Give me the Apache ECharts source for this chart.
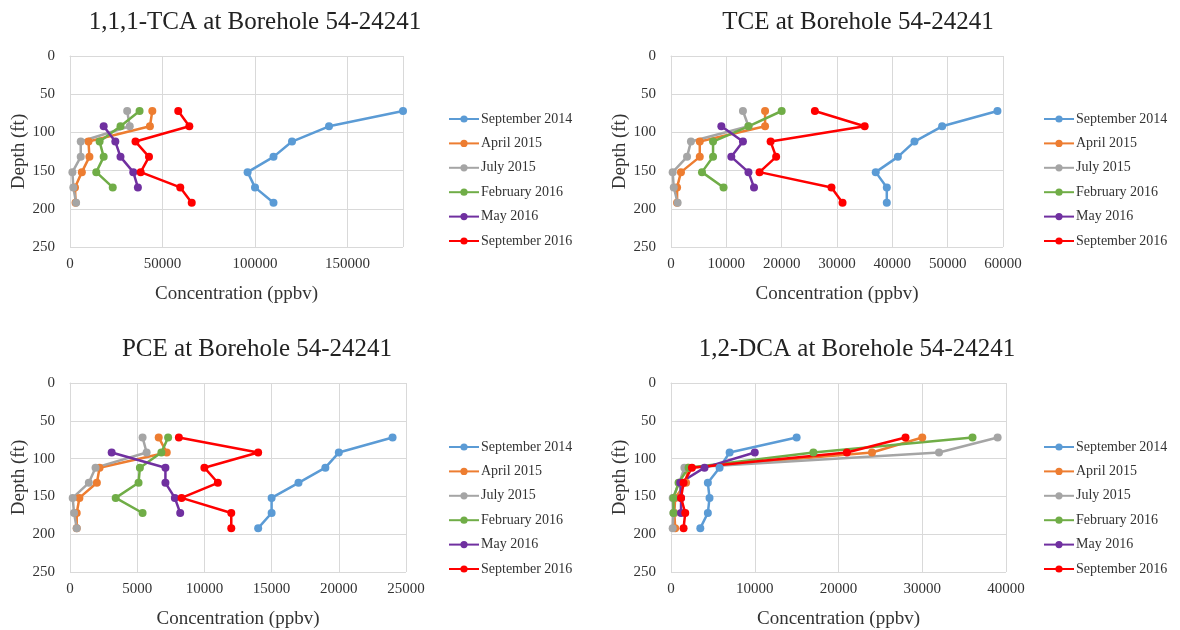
<!DOCTYPE html>
<html>
<head>
<meta charset="utf-8">
<script src="https://cdn.jsdelivr.net/npm/echarts@6/dist/echarts.min.js"></script>
<style>
  html, body { margin: 0; padding: 0; background: #ffffff; }
  #chart { width: 1180px; height: 630px; }
</style>
</head>
<body>
<div id="chart"></div>
<script>
// sampling dates (legend order)
var seriesNames = ['September 2014', 'April 2015', 'July 2015', 'February 2016', 'May 2016', 'September 2016']
var colors = ['#5B9BD5', '#ED7D31', '#A5A5A5', '#70AD47', '#7030A0', '#FF0000']

// depths (ft)
var depthsAll = [72, 92, 112, 132, 152, 172, 192]
var depthsFeb16 = [72, 92, 112, 132, 152, 172]
var depthsMay16 = [92, 112, 132, 152, 172]

// 1,1,1-TCA (ppbv)
var tcaSep14 = [180000, 140000, 120000, 110000, 96000, 100000, 110000]
var tcaApr15 = [44500, 43200, 10000, 10500, 6400, 2700, 3000]
var tcaJul15 = [30900, 32300, 5800, 5800, 1300, 1800, 3300]
var tcaFeb16 = [37600, 27300, 16000, 18200, 14200, 23100]
var tcaMay16 = [18200, 24500, 27300, 34200, 36700]
var tcaSep16 = [58500, 64500, 35400, 42700, 38200, 59600, 65800]

// TCE (ppbv)
var tceSep14 = [59000, 49000, 44000, 41000, 37000, 39000, 39000]
var tceApr15 = [17000, 17000, 5200, 5200, 1800, 1100, 1100]
var tceJul15 = [13000, 14000, 3600, 2900, 300, 500, 1200]
var tceFeb16 = [20000, 14000, 7600, 7600, 5600, 9500]
var tceMay16 = [9100, 13000, 10900, 14000, 15000]
var tceSep16 = [26000, 35000, 18000, 19000, 16000, 29000, 31000]

// PCE (ppbv)
var pceSep14 = [24000, 20000, 19000, 17000, 15000, 15000, 14000]
var pceApr15 = [6600, 7200, 2200, 2000, 700, 500, 500]
var pceJul15 = [5400, 5700, 1900, 1400, 200, 300, 500]
var pceFeb16 = [7300, 6800, 5200, 5100, 3400, 5400]
var pceMay16 = [3100, 7100, 7100, 7800, 8200]
var pceSep16 = [8100, 14000, 10000, 11000, 8300, 12000, 12000]

// 1,2-DCA (ppbv)
var dcaSep14 = [15000, 7000, 5800, 4400, 4600, 4400, 3500]
var dcaApr15 = [30000, 24000, 2000, 1800, 500, 400, 500]
var dcaJul15 = [39000, 32000, 1600, 1000, 200, 300, 200]
var dcaFeb16 = [36000, 17000, 2100, 900, 300, 300]
var dcaMay16 = [10000, 4000, 1100, 1200, 1200]
var dcaSep16 = [28000, 21000, 2500, 1500, 1200, 1700, 1500]

var panels = [
  { title: '1,1,1-TCA at Borehole 54-24241', max: 180000, interval: 50000,
    values: [tcaSep14, tcaApr15, tcaJul15, tcaFeb16, tcaMay16, tcaSep16],
    grid: { left: 70, top: 56, width: 333, height: 191 }, titleX: 250, titleY: 5, legend: [448, 112] },
  { title: 'TCE at Borehole 54-24241', max: 60000, interval: 10000,
    values: [tceSep14, tceApr15, tceJul15, tceFeb16, tceMay16, tceSep16],
    grid: { left: 671, top: 56, width: 332, height: 191 }, titleX: 853, titleY: 5, legend: [1043, 112] },
  { title: 'PCE at Borehole 54-24241', max: 25000, interval: 5000,
    values: [pceSep14, pceApr15, pceJul15, pceFeb16, pceMay16, pceSep16],
    grid: { left: 70, top: 383, width: 336, height: 189 }, titleX: 252, titleY: 332, legend: [448, 440] },
  { title: '1,2-DCA at Borehole 54-24241', max: 40000, interval: 10000,
    values: [dcaSep14, dcaApr15, dcaJul15, dcaFeb16, dcaMay16, dcaSep16],
    grid: { left: 671, top: 383, width: 335, height: 189 }, titleX: 852, titleY: 332, legend: [1043, 440] }
]

var depthSets = [depthsAll, depthsAll, depthsAll, depthsFeb16, depthsMay16, depthsAll]
var font = 'Liberation Serif'
var textColor = '#333333'
var gridColor = '#D9D9D9'

var option = {
  animation: false,
  textStyle: { fontFamily: font },
  color: colors,
  title: [],
  legend: [],
  grid: [],
  xAxis: [],
  yAxis: [],
  series: []
}

panels.forEach(function (p, pi) {
  option.title.push({
    text: p.title,
    left: p.titleX,
    top: p.titleY,
    textAlign: 'center',
    textStyle: { fontFamily: font, fontSize: 25, fontWeight: 'normal', color: '#222222' }
  })
  option.legend.push({
    data: seriesNames,
    orient: 'vertical',
    left: p.legend[0],
    top: p.legend[1],
    padding: 0,
    itemWidth: 30,
    itemHeight: 9,
    itemGap: 10.4,
    textStyle: { fontFamily: font, fontSize: 14, color: textColor, padding: [0, 0, 0, -3] }
  })
  option.grid.push(p.grid)
  option.xAxis.push({
    gridIndex: pi,
    type: 'value',
    min: 0,
    max: p.max,
    interval: p.interval,
    name: 'Concentration (ppbv)',
    nameLocation: 'middle',
    nameGap: 38,
    nameTextStyle: { fontFamily: font, fontSize: 19, color: textColor },
    axisLine: { show: true, lineStyle: { color: gridColor } },
    axisTick: { show: false },
    axisLabel: {
      fontFamily: font, fontSize: 15, color: textColor, margin: 10, showMaxLabel: pi !== 0,
      formatter: function (v) { return String(v) }
    },
    splitLine: { show: true, lineStyle: { color: gridColor, width: 1 } }
  })
  option.yAxis.push({
    gridIndex: pi,
    type: 'value',
    inverse: true,
    min: 0,
    max: 250,
    interval: 50,
    name: 'Depth (ft)',
    nameLocation: 'middle',
    nameGap: 38,
    nameTextStyle: { fontFamily: font, fontSize: 19, color: textColor },
    axisLine: { show: true, lineStyle: { color: gridColor } },
    axisTick: { show: false },
    axisLabel: { fontFamily: font, fontSize: 15, color: textColor, margin: 15 },
    splitLine: { show: true, lineStyle: { color: gridColor, width: 1 } }
  })
  p.values.forEach(function (vals, si) {
    var depths = depthSets[si]
    option.series.push({
      name: seriesNames[si],
      type: 'line',
      xAxisIndex: pi,
      yAxisIndex: pi,
      symbol: 'circle',
      symbolSize: 8,
      lineStyle: { width: 2.5, color: colors[si] },
      itemStyle: { color: colors[si] },
      data: vals.map(function (v, i) { return [v, depths[i]] })
    })
  })
})

var myChart = echarts.init(document.getElementById('chart'))
myChart.setOption(option)
</script>
</body>
</html>
